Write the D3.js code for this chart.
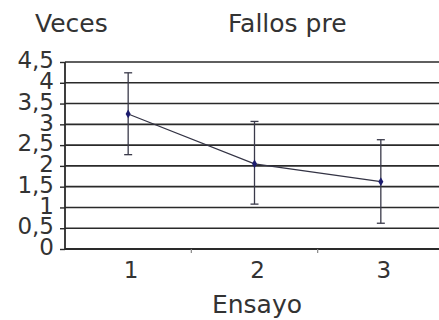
<!DOCTYPE html>
<html><head><meta charset="utf-8">
<script src="https://cdn.jsdelivr.net/npm/d3@7"></script>
<style>
html,body{margin:0;padding:0;background:#fff;}
svg{display:block;font-family:"DejaVu Sans",Verdana,sans-serif;}
</style></head>
<body>
<script>
const categories = [1, 2, 3];
const means = [3.25, 2.05, 1.62];
const errHigh = [4.24, 3.07, 2.63];
const errLow = [2.27, 1.08, 0.62];
const yTicks = [0, 0.5, 1, 1.5, 2, 2.5, 3, 3.5, 4, 4.5];
const yTickLabels = ["0", "0,5", "1", "1,5", "2", "2,5", "3", "3,5", "4", "4,5"];
const title = "Fallos pre";
const yTitle = "Veces";
const xTitle = "Ensayo";

const W = 439, H = 320;
const svg = d3.select("body").append("svg").attr("width", W).attr("height", H);

const x = d3.scaleBand().domain(categories).range([65, 444]);
const y = d3.scaleLinear().domain([0, 4.5]).range([249, 62]);
const cx = d => x(d) + x.bandwidth() / 2;

// gridlines
svg.append("g").selectAll("line").data(yTicks.slice(1)).join("line")
  .attr("x1", 65).attr("x2", W)
  .attr("y1", d => y(d)).attr("y2", d => y(d))
  .attr("stroke", "#2a2a2a").attr("stroke-width", 1.6);

// y axis
const yAxis = d3.axisLeft(y).tickValues(yTicks).tickSize(5).tickFormat((d, i) => yTickLabels[i]);
const gy = svg.append("g").attr("transform", "translate(65,0)").call(yAxis);
gy.select(".domain").attr("stroke", "#2a2a2a").attr("stroke-width", 1.8).attr("d", `M0,${y(4.5)}V${y(0)}`);
gy.selectAll(".tick line").attr("stroke", "#2a2a2a").attr("stroke-width", 1.4);
gy.selectAll(".tick text").attr("x", -11).attr("dy", "0.25em")
  .attr("font-size", 23).attr("fill", "#333").attr("font-family", '"DejaVu Sans",Verdana,sans-serif')
  .attr("transform", null);

// x axis
svg.append("line").attr("x1", 65).attr("x2", W).attr("y1", y(0)).attr("y2", y(0))
  .attr("stroke", "#2a2a2a").attr("stroke-width", 2);
const bounds = categories.map(c => x(c)).slice(1);
svg.append("g").selectAll("line").data(bounds).join("line")
  .attr("x1", d => d).attr("x2", d => d).attr("y1", y(0)).attr("y2", y(0) + 4)
  .attr("stroke", "#888").attr("stroke-width", 1.2);
svg.append("g").selectAll("text").data(categories).join("text")
  .attr("x", d => cx(d) + 3).attr("y", 278).attr("text-anchor", "middle")
  .attr("font-size", 23).attr("fill", "#333").text(d => d);

// error bars
const eb = svg.append("g").attr("stroke", "#3a3a4a").attr("stroke-width", 1.3);
categories.forEach((c, i) => {
  const xc = cx(c);
  eb.append("line").attr("x1", xc).attr("x2", xc).attr("y1", y(errHigh[i])).attr("y2", y(errLow[i]));
  eb.append("line").attr("x1", xc - 4).attr("x2", xc + 4).attr("y1", y(errHigh[i])).attr("y2", y(errHigh[i]));
  eb.append("line").attr("x1", xc - 4).attr("x2", xc + 4).attr("y1", y(errLow[i])).attr("y2", y(errLow[i]));
});

// line
const line = d3.line().x((d, i) => cx(categories[i])).y(d => y(d));
svg.append("path").datum(means).attr("d", line).attr("fill", "none")
  .attr("stroke", "#333344").attr("stroke-width", 1.2);

// points
svg.append("g").selectAll("path").data(means).join("path")
  .attr("transform", (d, i) => `translate(${cx(categories[i])},${y(d)})`)
  .attr("d", d3.symbol(d3.symbolDiamond, 22)())
  .attr("fill", "#1c1c6e");

// titles
svg.append("text").attr("x", 35).attr("y", 32).attr("font-size", 25).attr("fill", "#333").text(yTitle);
svg.append("text").attr("x", 228).attr("y", 32).attr("font-size", 25).attr("fill", "#333").text(title);
svg.append("text").attr("x", 257).attr("y", 313).attr("text-anchor", "middle").attr("font-size", 25).attr("fill", "#333").text(xTitle);
</script>
</body></html>
